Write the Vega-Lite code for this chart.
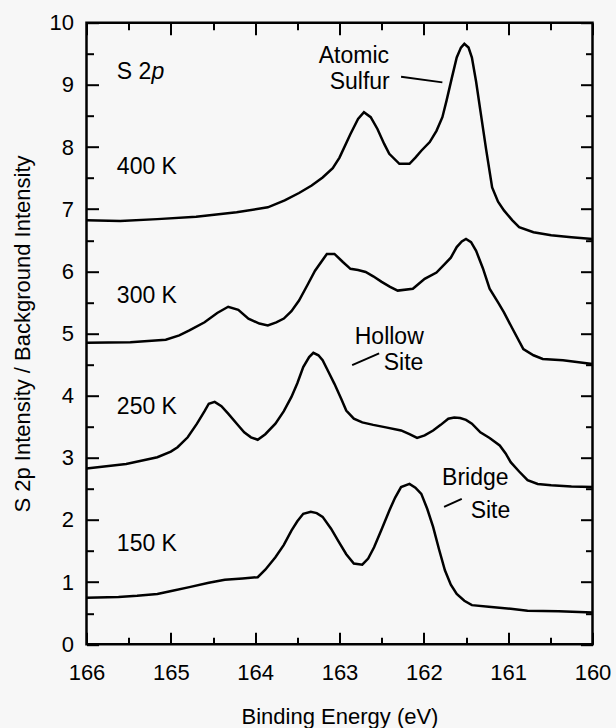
{
  "$schema": "https://vega.github.io/schema/vega-lite/v6.json",
  "width": 506,
  "height": 621.6,
  "autosize": {"type": "none"},
  "padding": {"left": 86.5, "top": 22.7, "right": 23.5, "bottom": 83.7},
  "background": "#f7f7f7",
  "datasets": {
    "curves": [
      {"T":"400 K","e":166.0,"v":6.82},{"T":"400 K","e":165.6,"v":6.81},{"T":"400 K","e":165.16,"v":6.84},{"T":"400 K","e":164.7,"v":6.88},{"T":"400 K","e":164.22,"v":6.95},{"T":"400 K","e":163.85,"v":7.03},{"T":"400 K","e":163.65,"v":7.14},{"T":"400 K","e":163.48,"v":7.26},{"T":"400 K","e":163.33,"v":7.38},{"T":"400 K","e":163.2,"v":7.51},{"T":"400 K","e":163.08,"v":7.66},{"T":"400 K","e":163.0,"v":7.83},{"T":"400 K","e":162.87,"v":8.21},{"T":"400 K","e":162.78,"v":8.45},{"T":"400 K","e":162.71,"v":8.56},{"T":"400 K","e":162.63,"v":8.48},{"T":"400 K","e":162.55,"v":8.29},{"T":"400 K","e":162.47,"v":8.05},{"T":"400 K","e":162.41,"v":7.89},{"T":"400 K","e":162.29,"v":7.73},{"T":"400 K","e":162.17,"v":7.73},{"T":"400 K","e":162.1,"v":7.83},{"T":"400 K","e":162.03,"v":7.94},{"T":"400 K","e":161.93,"v":8.08},{"T":"400 K","e":161.85,"v":8.26},{"T":"400 K","e":161.78,"v":8.48},{"T":"400 K","e":161.73,"v":8.75},{"T":"400 K","e":161.67,"v":9.1},{"T":"400 K","e":161.61,"v":9.44},{"T":"400 K","e":161.56,"v":9.6},{"T":"400 K","e":161.52,"v":9.66},{"T":"400 K","e":161.47,"v":9.6},{"T":"400 K","e":161.43,"v":9.44},{"T":"400 K","e":161.38,"v":9.05},{"T":"400 K","e":161.33,"v":8.59},{"T":"400 K","e":161.26,"v":7.95},{"T":"400 K","e":161.19,"v":7.35},{"T":"400 K","e":161.12,"v":7.12},{"T":"400 K","e":161.05,"v":6.98},{"T":"400 K","e":160.95,"v":6.82},{"T":"400 K","e":160.87,"v":6.71},{"T":"400 K","e":160.7,"v":6.63},{"T":"400 K","e":160.49,"v":6.58},{"T":"400 K","e":160.25,"v":6.55},{"T":"400 K","e":160.0,"v":6.52},
      {"T":"300 K","e":166.0,"v":4.85},{"T":"300 K","e":165.48,"v":4.86},{"T":"300 K","e":165.06,"v":4.9},{"T":"300 K","e":164.9,"v":4.97},{"T":"300 K","e":164.78,"v":5.05},{"T":"300 K","e":164.6,"v":5.18},{"T":"300 K","e":164.45,"v":5.33},{"T":"300 K","e":164.32,"v":5.43},{"T":"300 K","e":164.2,"v":5.38},{"T":"300 K","e":164.08,"v":5.24},{"T":"300 K","e":163.95,"v":5.16},{"T":"300 K","e":163.85,"v":5.13},{"T":"300 K","e":163.75,"v":5.18},{"T":"300 K","e":163.66,"v":5.24},{"T":"300 K","e":163.57,"v":5.36},{"T":"300 K","e":163.48,"v":5.53},{"T":"300 K","e":163.38,"v":5.78},{"T":"300 K","e":163.29,"v":6.01},{"T":"300 K","e":163.15,"v":6.28},{"T":"300 K","e":163.06,"v":6.28},{"T":"300 K","e":162.96,"v":6.15},{"T":"300 K","e":162.87,"v":6.04},{"T":"300 K","e":162.78,"v":6.02},{"T":"300 K","e":162.69,"v":5.99},{"T":"300 K","e":162.6,"v":5.92},{"T":"300 K","e":162.5,"v":5.83},{"T":"300 K","e":162.4,"v":5.75},{"T":"300 K","e":162.31,"v":5.69},{"T":"300 K","e":162.13,"v":5.72},{"T":"300 K","e":161.99,"v":5.88},{"T":"300 K","e":161.85,"v":5.98},{"T":"300 K","e":161.75,"v":6.12},{"T":"300 K","e":161.68,"v":6.22},{"T":"300 K","e":161.61,"v":6.39},{"T":"300 K","e":161.55,"v":6.48},{"T":"300 K","e":161.5,"v":6.52},{"T":"300 K","e":161.44,"v":6.47},{"T":"300 K","e":161.38,"v":6.33},{"T":"300 K","e":161.3,"v":6.05},{"T":"300 K","e":161.22,"v":5.72},{"T":"300 K","e":161.12,"v":5.5},{"T":"300 K","e":161.05,"v":5.34},{"T":"300 K","e":160.95,"v":5.08},{"T":"300 K","e":160.82,"v":4.75},{"T":"300 K","e":160.7,"v":4.65},{"T":"300 K","e":160.59,"v":4.59},{"T":"300 K","e":160.35,"v":4.57},{"T":"300 K","e":160.0,"v":4.51},
      {"T":"250 K","e":166.0,"v":2.83},{"T":"250 K","e":165.53,"v":2.9},{"T":"250 K","e":165.16,"v":3.01},{"T":"250 K","e":165.0,"v":3.1},{"T":"250 K","e":164.92,"v":3.17},{"T":"250 K","e":164.8,"v":3.33},{"T":"250 K","e":164.69,"v":3.55},{"T":"250 K","e":164.6,"v":3.75},{"T":"250 K","e":164.55,"v":3.87},{"T":"250 K","e":164.48,"v":3.9},{"T":"250 K","e":164.4,"v":3.83},{"T":"250 K","e":164.32,"v":3.71},{"T":"250 K","e":164.2,"v":3.52},{"T":"250 K","e":164.13,"v":3.41},{"T":"250 K","e":164.05,"v":3.33},{"T":"250 K","e":163.97,"v":3.29},{"T":"250 K","e":163.88,"v":3.38},{"T":"250 K","e":163.76,"v":3.55},{"T":"250 K","e":163.66,"v":3.75},{"T":"250 K","e":163.57,"v":3.98},{"T":"250 K","e":163.5,"v":4.2},{"T":"250 K","e":163.43,"v":4.46},{"T":"250 K","e":163.36,"v":4.62},{"T":"250 K","e":163.31,"v":4.69},{"T":"250 K","e":163.25,"v":4.65},{"T":"250 K","e":163.2,"v":4.57},{"T":"250 K","e":163.13,"v":4.38},{"T":"250 K","e":163.06,"v":4.19},{"T":"250 K","e":162.98,"v":3.95},{"T":"250 K","e":162.92,"v":3.76},{"T":"250 K","e":162.83,"v":3.63},{"T":"250 K","e":162.73,"v":3.57},{"T":"250 K","e":162.6,"v":3.53},{"T":"250 K","e":162.45,"v":3.49},{"T":"250 K","e":162.27,"v":3.44},{"T":"250 K","e":162.17,"v":3.38},{"T":"250 K","e":162.08,"v":3.32},{"T":"250 K","e":161.99,"v":3.36},{"T":"250 K","e":161.89,"v":3.44},{"T":"250 K","e":161.8,"v":3.53},{"T":"250 K","e":161.71,"v":3.63},{"T":"250 K","e":161.64,"v":3.65},{"T":"250 K","e":161.57,"v":3.64},{"T":"250 K","e":161.5,"v":3.61},{"T":"250 K","e":161.43,"v":3.55},{"T":"250 K","e":161.33,"v":3.41},{"T":"250 K","e":161.22,"v":3.32},{"T":"250 K","e":161.1,"v":3.2},{"T":"250 K","e":161.03,"v":3.07},{"T":"250 K","e":160.97,"v":2.93},{"T":"250 K","e":160.87,"v":2.78},{"T":"250 K","e":160.77,"v":2.64},{"T":"250 K","e":160.65,"v":2.58},{"T":"250 K","e":160.49,"v":2.56},{"T":"250 K","e":160.25,"v":2.54},{"T":"250 K","e":160.0,"v":2.53},
      {"T":"150 K","e":166.0,"v":0.75},{"T":"150 K","e":165.62,"v":0.76},{"T":"150 K","e":165.4,"v":0.78},{"T":"150 K","e":165.16,"v":0.81},{"T":"150 K","e":164.98,"v":0.86},{"T":"150 K","e":164.78,"v":0.92},{"T":"150 K","e":164.55,"v":0.99},{"T":"150 K","e":164.36,"v":1.04},{"T":"150 K","e":164.15,"v":1.06},{"T":"150 K","e":163.97,"v":1.08},{"T":"150 K","e":163.88,"v":1.2},{"T":"150 K","e":163.76,"v":1.4},{"T":"150 K","e":163.66,"v":1.6},{"T":"150 K","e":163.57,"v":1.83},{"T":"150 K","e":163.5,"v":1.98},{"T":"150 K","e":163.43,"v":2.1},{"T":"150 K","e":163.34,"v":2.13},{"T":"150 K","e":163.27,"v":2.11},{"T":"150 K","e":163.2,"v":2.05},{"T":"150 K","e":163.1,"v":1.86},{"T":"150 K","e":163.01,"v":1.65},{"T":"150 K","e":162.92,"v":1.45},{"T":"150 K","e":162.83,"v":1.3},{"T":"150 K","e":162.73,"v":1.28},{"T":"150 K","e":162.66,"v":1.38},{"T":"150 K","e":162.59,"v":1.56},{"T":"150 K","e":162.5,"v":1.85},{"T":"150 K","e":162.41,"v":2.15},{"T":"150 K","e":162.34,"v":2.36},{"T":"150 K","e":162.27,"v":2.53},{"T":"150 K","e":162.17,"v":2.58},{"T":"150 K","e":162.1,"v":2.52},{"T":"150 K","e":162.03,"v":2.42},{"T":"150 K","e":161.96,"v":2.18},{"T":"150 K","e":161.89,"v":1.89},{"T":"150 K","e":161.82,"v":1.53},{"T":"150 K","e":161.75,"v":1.19},{"T":"150 K","e":161.68,"v":0.96},{"T":"150 K","e":161.61,"v":0.81},{"T":"150 K","e":161.52,"v":0.7},{"T":"150 K","e":161.43,"v":0.63},{"T":"150 K","e":161.2,"v":0.6},{"T":"150 K","e":160.97,"v":0.57},{"T":"150 K","e":160.77,"v":0.54},{"T":"150 K","e":160.4,"v":0.53},{"T":"150 K","e":160.0,"v":0.51}
    ],
    "leftlabels": [
      {"e":165.64,"v":9.2,"t":"S 2"},
      {"e":165.64,"v":7.68,"t":"400 K"},
      {"e":165.64,"v":5.61,"t":"300 K"},
      {"e":165.64,"v":3.81,"t":"250 K"},
      {"e":165.64,"v":1.62,"t":"150 K"}
    ],
    "italic": [
      {"e":165.23,"v":9.2,"t":"p"}
    ],
    "notes": [
      {"e":162.83,"v":9.47,"t":"Atomic"},
      {"e":162.76,"v":9.04,"t":"Sulfur"},
      {"e":162.41,"v":4.94,"t":"Hollow"},
      {"e":162.24,"v":4.52,"t":"Site"},
      {"e":161.39,"v":2.67,"t":"Bridge"},
      {"e":161.21,"v":2.15,"t":"Site"}
    ],
    "leaders": [
      {"e":162.27,"v":9.13,"e2":161.78,"v2":9.04},
      {"e":162.85,"v":4.49,"e2":162.53,"v2":4.68},
      {"e":161.76,"v":2.21,"e2":161.55,"v2":2.34}
    ]
  },
  "config": {
    "view": {"stroke": "black", "strokeWidth": 2.5},
    "font": "Liberation Sans",
    "axis": {
      "domain": false,
      "grid": false,
      "labelFont": "Liberation Sans",
      "titleFont": "Liberation Sans",
      "labelFontSize": 22,
      "titleFontSize": 22,
      "labelColor": "black",
      "titleColor": "black",
      "titleFontWeight": "normal",
      "tickColor": "black",
      "tickWidth": 2
    }
  },
  "resolve": {"axis": {"x": "independent", "y": "independent"}},
  "layer": [
    {
      "data": {"name": "curves"},
      "mark": {"type": "line", "color": "black", "strokeWidth": 2.5},
      "encoding": {
        "x": {
          "field": "e", "type": "quantitative",
          "scale": {"domain": [160, 166], "reverse": true, "nice": false, "zero": false},
          "axis": {
            "orient": "bottom",
            "title": "Binding Energy (eV)",
            "values": [160,160.5,161,161.5,162,162.5,163,163.5,164,164.5,165,165.5,166],
            "labelExpr": "datum.value % 1 === 0 ? format(datum.value, 'd') : ''",
            "tickSize": {"condition": {"test": "datum.value % 1 === 0", "value": -12}, "value": -7},
            "labelPadding": 30,
            "labelFlush": false,
            "labelOverlap": false,
            "titleY": 72,
            "titleBaseline": "middle"
          }
        },
        "y": {
          "field": "v", "type": "quantitative",
          "scale": {"domain": [0, 10], "nice": false, "zero": false},
          "axis": {
            "orient": "left",
            "title": "S 2p Intensity / Background Intensity",
            "values": [0,0.5,1,1.5,2,2.5,3,3.5,4,4.5,5,5.5,6,6.5,7,7.5,8,8.5,9,9.5,10],
            "labelExpr": "datum.value % 1 === 0 ? format(datum.value, 'd') : ''",
            "tickSize": {"condition": {"test": "datum.value % 1 === 0", "value": -12}, "value": -7},
            "labelPadding": 25,
            "labelFlush": false,
            "labelOverlap": false,
            "titleX": -64.5,
            "titleBaseline": "middle"
          }
        },
        "detail": {"field": "T", "type": "nominal"}
      }
    },
    {
      "data": {"name": "curves"},
      "mark": {"type": "line", "opacity": 0},
      "encoding": {
        "x": {
          "field": "e", "type": "quantitative",
          "axis": {
            "orient": "top", "title": null, "labels": false,
            "values": [160,160.5,161,161.5,162,162.5,163,163.5,164,164.5,165,165.5,166],
            "tickSize": {"condition": {"test": "datum.value % 1 === 0", "value": -12}, "value": -7}
          }
        },
        "y": {
          "field": "v", "type": "quantitative",
          "axis": {
            "orient": "right", "title": null, "labels": false,
            "values": [0,0.5,1,1.5,2,2.5,3,3.5,4,4.5,5,5.5,6,6.5,7,7.5,8,8.5,9,9.5,10],
            "tickSize": {"condition": {"test": "datum.value % 1 === 0", "value": -12}, "value": -7}
          }
        },
        "detail": {"field": "T", "type": "nominal"}
      }
    },
    {
      "data": {"name": "leftlabels"},
      "mark": {"type": "text", "align": "left", "baseline": "middle", "fontSize": 23, "font": "Liberation Sans", "color": "black"},
      "encoding": {
        "x": {"field": "e", "type": "quantitative", "axis": null},
        "y": {"field": "v", "type": "quantitative", "axis": null},
        "text": {"field": "t"}
      }
    },
    {
      "data": {"name": "italic"},
      "mark": {"type": "text", "align": "left", "baseline": "middle", "fontSize": 23, "fontStyle": "italic", "font": "Liberation Sans", "color": "black"},
      "encoding": {
        "x": {"field": "e", "type": "quantitative", "axis": null},
        "y": {"field": "v", "type": "quantitative", "axis": null},
        "text": {"field": "t"}
      }
    },
    {
      "data": {"name": "notes"},
      "mark": {"type": "text", "align": "center", "baseline": "middle", "fontSize": 23, "font": "Liberation Sans", "color": "black"},
      "encoding": {
        "x": {"field": "e", "type": "quantitative", "axis": null},
        "y": {"field": "v", "type": "quantitative", "axis": null},
        "text": {"field": "t"}
      }
    },
    {
      "data": {"name": "leaders"},
      "mark": {"type": "rule", "color": "black", "strokeWidth": 2},
      "encoding": {
        "x": {"field": "e", "type": "quantitative", "axis": null},
        "x2": {"field": "e2"},
        "y": {"field": "v", "type": "quantitative", "axis": null},
        "y2": {"field": "v2"}
      }
    }
  ]
}
